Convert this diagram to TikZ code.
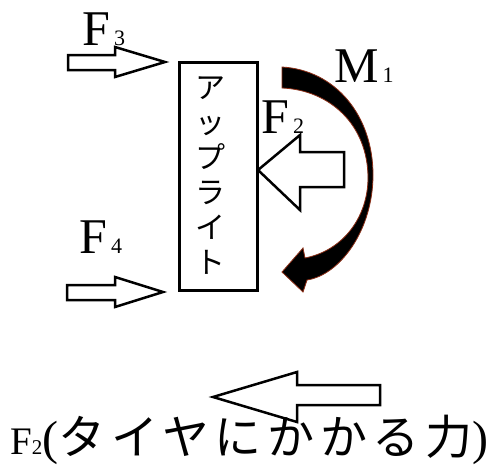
\documentclass[tikz,border=0pt]{standalone}
\usepackage{fontspec}
\usepackage{tikz}
\setmainfont{Liberation Serif}
\newfontfamily\cjk{Noto Sans CJK JP}
\newfontfamily\cjkwide[LetterSpace=12]{Noto Sans CJK JP}
\definecolor{momentedge}{HTML}{8B2E16}
\newcommand{\fsub}[1]{\hspace{4pt}{\fontsize{22}{22}\selectfont #1}}

\begin{document}
\begin{tikzpicture}[x=1pt, y=-1pt,
    blockarrow/.style={draw, fill=white, line width=2.5pt, line join=miter},
    forcelabel/.style={anchor=base west, inner sep=0pt, font=\fontsize{50}{50}\selectfont},
    moment/.style={fill=black, draw=momentedge, line width=0.8pt}
]
\useasboundingbox (0,0) rectangle (504,474);

% Upright
\node[draw, line width=3pt, anchor=north west, minimum width=78.5pt, minimum height=227.5pt, inner sep=0pt] (upright) at (177.5,61) {};
\node[font=\cjk\fontsize{30}{35}\selectfont, align=center, inner sep=0pt] (uprighttext) at (210,176) {ア\\ッ\\プ\\ラ\\イ\\ト};

% Forces on the upright
\draw[blockarrow] (68,55) -- (115,55) -- (115,47) -- (165,62) -- (115,77) -- (115,70) -- (68,70) -- cycle;
\draw[blockarrow] (67,285) -- (115,285) -- (115,277) -- (163,292) -- (115,307) -- (115,300) -- (67,300) -- cycle;
\draw[blockarrow] (258,170) -- (300,135) -- (300,152) -- (344,152) -- (344,187) -- (300,187) -- (300,210) -- cycle;

% Moment
\filldraw[moment] (282,67) .. controls (335,70) and (373,115) .. (373,175)
    .. controls (373,230) and (340,275) .. (307,280) -- (303,292) -- (282,272) -- (303,248) -- (305,258)
    .. controls (345,250) and (368,215) .. (368,178) .. controls (368,125) and (330,90) .. (282,88) -- cycle;

% Labels
\node[forcelabel] (fthree) at (82,45) {F\fsub{3}};
\node[forcelabel] (ffour) at (79,253) {F\fsub{4}};
\node[forcelabel] (ftwo) at (261,133) {F\fsub{2}};
\node[forcelabel] (mone) at (334,82) {M\fsub{1}};

% Tire force
\draw[blockarrow] (213,397) -- (297,372) -- (297,385) -- (380,385) -- (380,405) -- (297,405) -- (297,422) -- cycle;
\node[anchor=base west, inner sep=0pt, font=\fontsize{39}{39}\selectfont] (tireforce) at (10,454)
    {F{\fontsize{21}{21}\selectfont 2}{\fontsize{48}{48}\selectfont (}{\cjkwide\fontsize{47}{47}\selectfont タイヤにかかる力}{\fontsize{48}{48}\selectfont )}};

\end{tikzpicture}
\end{document}
